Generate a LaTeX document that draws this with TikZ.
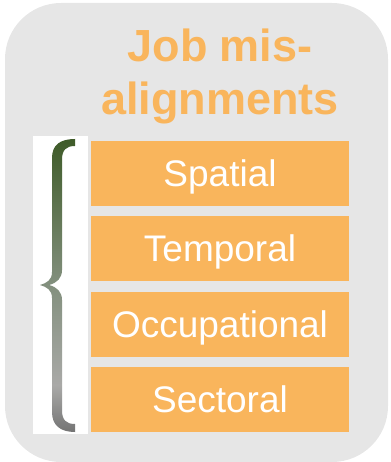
\documentclass[tikz,border=0pt]{standalone}
\usepackage{fontspec}
\setmainfont{Liberation Sans}
\definecolor{panelgray}{HTML}{E6E6E6}
\definecolor{boxorange}{HTML}{F9B55C}
\definecolor{bgreen}{HTML}{3E5B28}
\definecolor{bmid}{HTML}{83907E}
\definecolor{blight}{HTML}{A9A9A7}
\definecolor{bgray}{HTML}{747474}
\pgfdeclareverticalshading{braceshade}{100bp}{color(0bp)=(bgray); color(25bp)=(bgray); color(33bp)=(blight); color(50bp)=(bmid); color(75bp)=(bgreen); color(100bp)=(bgreen)}
\tikzset{
  itembox/.style={fill=boxorange, draw=none, minimum width=258pt, minimum height=65pt,
    inner sep=0pt, text=white, font=\fontsize{37}{41}\selectfont, text height=26.5pt, text depth=0pt},
  titletext/.style={text=boxorange, font=\fontsize{45}{52}\selectfont\bfseries, inner sep=0pt, anchor=base}
}
\begin{document}
\begin{tikzpicture}[x=1pt,y=-1pt]
\useasboundingbox (0,0) rectangle (390,462);
\fill[panelgray, rounded corners=56pt] (5,3) rectangle (388,462);
\node[titletext] (t1) at (220,62) {Job mis-};
\node[titletext] (t2) at (220,115) {alignments};
\fill[white] (33,136) rectangle (88,434);
\shade[shading=braceshade]
  (75,139) .. controls (60,139) and (52,145) .. (52,158)
  -- (52,272) .. controls (52,280) and (47,283) .. (40,285)
  .. controls (47,287) and (52,290) .. (52,298)
  -- (52,412) .. controls (52,425) and (60,432) .. (75,432)
  -- (75,424) .. controls (66,424) and (62,420) .. (62,410)
  -- (62,300) .. controls (62,292) and (57,287) .. (49,285)
  .. controls (57,283) and (62,278) .. (62,270)
  -- (62,160) .. controls (62,150) and (66,146) .. (75,146) -- cycle;
\node[itembox] (b1) at (220,173.5) {Spatial};
\node[itembox] (b2) at (220,248.5) {Temporal};
\node[itembox] (b3) at (220,324.5) {Occupational};
\node[itembox] (b4) at (220,399.5) {Sectoral};
\end{tikzpicture}
\end{document}
